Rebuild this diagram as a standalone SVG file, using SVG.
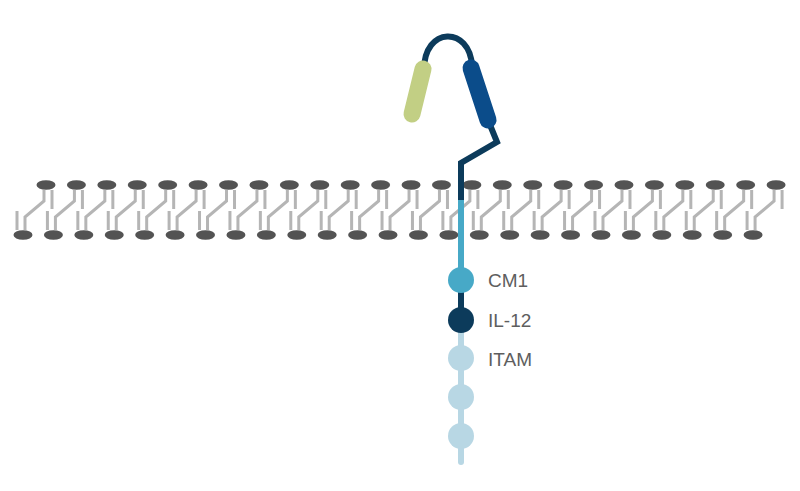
<svg xmlns="http://www.w3.org/2000/svg" width="800" height="491" viewBox="0 0 800 491">
<style>
.head{fill:#535353}
.tail{fill:none;stroke:#b5b5b5;stroke-width:3}
.link{fill:none;stroke-width:6}
.navy{stroke:#0c3b5b}
.teal{stroke:#47a9c7}
.pale{stroke:#b8d7e4}
.cap{stroke-width:17;stroke-linecap:round}
.lbl{font-family:"Liberation Sans",Arial,sans-serif;font-size:19px;fill:#5e5e5e}
</style>
<defs>
<g id="lipid">
<path class="tail" d="M-2,190V201L-21,217V230M6,190V209M-29,211V230"/>
<ellipse class="head" cx="0" cy="185" rx="9.5" ry="4.8"/>
<ellipse class="head" cx="-23" cy="235" rx="9.5" ry="4.8"/>
</g>
</defs>
<rect width="800" height="491" fill="#ffffff"/>
<g id="membrane">
<use href="#lipid" x="46"/>
<use href="#lipid" x="76.42"/>
<use href="#lipid" x="106.84"/>
<use href="#lipid" x="137.26"/>
<use href="#lipid" x="167.68"/>
<use href="#lipid" x="198.1"/>
<use href="#lipid" x="228.52"/>
<use href="#lipid" x="258.94"/>
<use href="#lipid" x="289.36"/>
<use href="#lipid" x="319.78"/>
<use href="#lipid" x="350.2"/>
<use href="#lipid" x="380.62"/>
<use href="#lipid" x="411.04"/>
<use href="#lipid" x="441.46"/>
<use href="#lipid" x="471.88"/>
<use href="#lipid" x="502.3"/>
<use href="#lipid" x="532.72"/>
<use href="#lipid" x="563.14"/>
<use href="#lipid" x="593.56"/>
<use href="#lipid" x="623.98"/>
<use href="#lipid" x="654.4"/>
<use href="#lipid" x="684.82"/>
<use href="#lipid" x="715.24"/>
<use href="#lipid" x="745.66"/>
<use href="#lipid" x="776.08"/>
</g>
<g id="connectors">
<path class="link navy" d="M424,70C424,26 470,26 472,66"/>
<path class="link navy" d="M488,120L497,142L461,163L461,202" stroke-linejoin="miter"/>
<path class="link teal" d="M461,200V280"/>
<path class="link navy" d="M461,280V320"/>
<path class="link pale" d="M461,320V462" stroke-linecap="round"/>
</g>
<g id="domain-green"><line class="cap" x1="423" y1="69" x2="412" y2="114" stroke="#c2cf84"/></g>
<g id="domain-blue"><line class="cap" x1="471" y1="68" x2="488" y2="120" stroke="#0b4c8a"/></g>
<g id="cm1"><circle cx="461" cy="280" r="13" fill="#47a9c7"/><text class="lbl" x="488" y="287">CM1</text></g>
<g id="il12"><circle cx="461" cy="320" r="13" fill="#0c3b5b"/><text class="lbl" x="488" y="327">IL-12</text></g>
<g id="itam1"><circle cx="461" cy="358" r="13" fill="#b8d7e4"/><text class="lbl" x="488" y="366">ITAM</text></g>
<g id="itam2"><circle cx="461" cy="397" r="13" fill="#b8d7e4"/></g>
<g id="itam3"><circle cx="461" cy="436" r="13" fill="#b8d7e4"/></g>
</svg>
